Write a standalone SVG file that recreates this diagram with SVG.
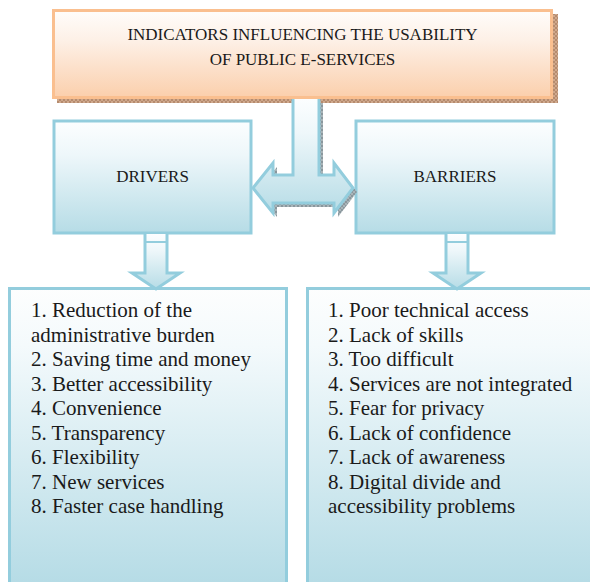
<svg xmlns="http://www.w3.org/2000/svg" width="590" height="582" viewBox="0 0 590 582">
<defs>
<linearGradient id="og" x1="0" y1="0" x2="0" y2="1">
<stop offset="0" stop-color="#fffdfb"/><stop offset="0.35" stop-color="#fdf0e6"/><stop offset="1" stop-color="#fbcfac"/>
</linearGradient>
<linearGradient id="bg" x1="0" y1="0" x2="0" y2="1">
<stop offset="0" stop-color="#fcfeff"/><stop offset="0.3" stop-color="#eef7fa"/><stop offset="1" stop-color="#b6dce6"/>
</linearGradient>
<linearGradient id="lg" gradientUnits="userSpaceOnUse" x1="0" y1="287" x2="0" y2="582">
<stop offset="0" stop-color="#fdfefe"/><stop offset="0.2" stop-color="#f4fafc"/><stop offset="1" stop-color="#b6dce6"/>
</linearGradient>
<pattern id="hb" width="4" height="4" patternUnits="userSpaceOnUse">
<rect width="4" height="4" fill="#cfa88c"/><path d="M0 0L4 4M4 0L0 4" stroke="#a97e61" stroke-width="0.7"/>
</pattern>
<pattern id="hg" width="4" height="4" patternUnits="userSpaceOnUse">
<rect width="4" height="4" fill="#a9b4b8"/><path d="M0 0L4 4M4 0L0 4" stroke="#7d8b90" stroke-width="0.7"/>
</pattern>
</defs>

<g id="top-node">
<rect x="57" y="14" width="501" height="89" fill="url(#hb)"/>
<rect x="53.5" y="10.5" width="498" height="87" fill="url(#og)" stroke="#fabf8f" stroke-width="3"/>
<text x="302.5" y="40" font-family="Times New Roman, Liberation Serif, serif" font-size="17" text-anchor="middle" fill="#1a1a1a">INDICATORS INFLUENCING THE USABILITY</text>
<text x="302.5" y="65" font-family="Times New Roman, Liberation Serif, serif" font-size="17" text-anchor="middle" fill="#1a1a1a">OF PUBLIC E-SERVICES</text>
</g>

<g id="drivers">
<rect x="54" y="121" width="197" height="112" fill="url(#bg)" stroke="#93cddd" stroke-width="3"/>
<text x="152.5" y="182" font-family="Times New Roman, Liberation Serif, serif" font-size="17" text-anchor="middle" fill="#1a1a1a">DRIVERS</text>
</g>

<g id="barriers">
<rect x="356" y="121" width="198" height="112" fill="url(#bg)" stroke="#93cddd" stroke-width="3"/>
<text x="455" y="182" font-family="Times New Roman, Liberation Serif, serif" font-size="17" text-anchor="middle" fill="#1a1a1a">BARRIERS</text>
</g>

<g id="drivers-list" font-family="Times New Roman, Liberation Serif, serif" font-size="21" fill="#1a1a1a">
<rect x="9.5" y="288.5" width="277" height="300" fill="url(#lg)" stroke="#93cddd" stroke-width="3"/>
<text x="31" y="317">1. Reduction of the</text>
<text x="31" y="341.5">administrative burden</text>
<text x="31" y="366">2. Saving time and money</text>
<text x="31" y="390.5">3. Better accessibility</text>
<text x="31" y="415">4. Convenience</text>
<text x="31" y="439.5">5. Transparency</text>
<text x="31" y="464">6. Flexibility</text>
<text x="31" y="488.5">7. New services</text>
<text x="31" y="513">8. Faster case handling</text>
</g>

<g id="barriers-list" font-family="Times New Roman, Liberation Serif, serif" font-size="21" fill="#1a1a1a">
<rect x="307.5" y="288.5" width="290" height="300" fill="url(#lg)" stroke="#93cddd" stroke-width="3"/>
<text x="328" y="317">1. Poor technical access</text>
<text x="328" y="341.5">2. Lack of skills</text>
<text x="328" y="366">3. Too difficult</text>
<text x="328" y="390.5">4. Services are not integrated</text>
<text x="328" y="415">5. Fear for privacy</text>
<text x="328" y="439.5">6. Lack of confidence</text>
<text x="328" y="464">7. Lack of awareness</text>
<text x="328" y="488.5">8. Digital divide and</text>
<text x="328" y="513">accessibility problems</text>
</g>

<g id="connectors" stroke="#93cddd" stroke-width="3">
<path d="M297 103L297 179L277 179L277 167L257 192L277 217L277 207L338 207L338 217L357 192L338 167L338 179L323 179L323 103Z" fill="url(#hg)" stroke="none"/>
<path d="M293 99L293 175L273 175L273 163L253 188L273 213L273 203L334 203L334 213L353 188L334 163L334 175L319 175L319 99" fill="url(#bg)"/>
<path d="M145 234L145 273L132 273L156 289L180 273L167 273L167 234" fill="url(#bg)"/>
<line x1="145" y1="242" x2="167" y2="242" stroke-width="2"/>
<path d="M446 234L446 273L433 273L457 289L481 273L468 273L468 234" fill="url(#bg)"/>
<line x1="446" y1="242" x2="468" y2="242" stroke-width="2"/>
</g>
</svg>
